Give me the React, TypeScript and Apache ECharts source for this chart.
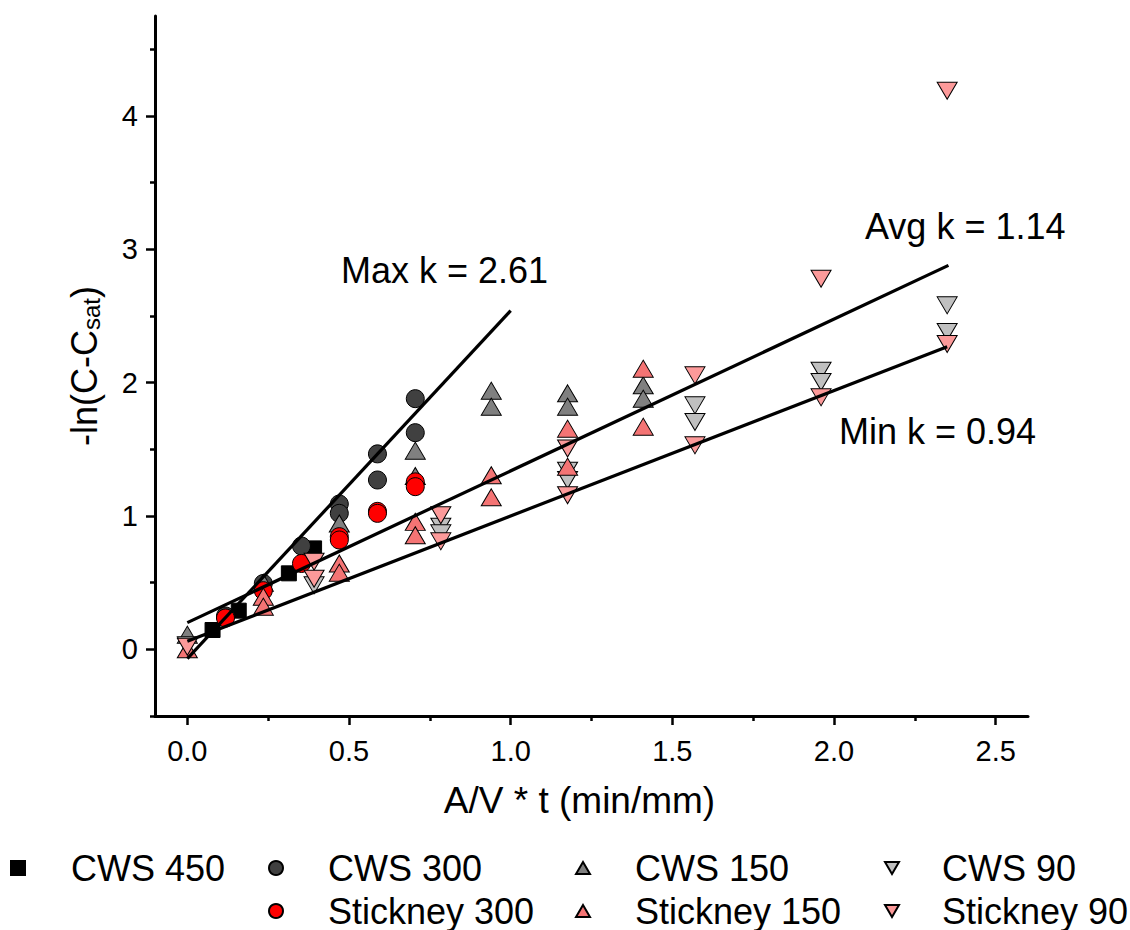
import React, { useEffect, useRef } from "react";
import * as echarts from "echarts";

// ---------- data ----------
const cws450: number[][] = [[0.078, 0.145], [0.159, 0.29], [0.314, 0.57], [0.392, 0.757]];
const cws300: number[][] = [
  [0.118, 0.25], [0.235, 0.494], [0.353, 0.775], [0.47, 1.09], [0.47, 1.02],
  [0.588, 1.466], [0.588, 1.27], [0.705, 1.88], [0.705, 1.625],
];
const cws150: number[][] = [
  [0, 0.11], [0.235, 0.5], [0.47, 0.944], [0.705, 1.49], [0.705, 1.3],
  [0.94, 1.94], [0.94, 1.82], [1.176, 1.92], [1.176, 1.82], [1.41, 1.98], [1.41, 1.88],
];
const cws90: number[][] = [
  [0, 0.03], [0.392, 0.48], [0.784, 0.92], [0.784, 0.87], [1.176, 1.34], [1.176, 1.27],
  [1.57, 1.83], [1.57, 1.705], [1.96, 2.09], [1.96, 2.005], [2.35, 2.58], [2.35, 2.38],
];
const stickney300: number[][] = [
  [0.118, 0.235], [0.235, 0.44], [0.353, 0.644], [0.47, 0.845], [0.47, 0.82],
  [0.588, 1.035], [0.588, 1.02], [0.705, 1.256], [0.705, 1.22],
];
const stickney150: number[][] = [
  [0, 0], [0.235, 0.395], [0.235, 0.32], [0.47, 0.644], [0.47, 0.575], [0.705, 0.956],
  [0.705, 0.856], [0.94, 1.306], [0.94, 1.14], [1.176, 1.655], [1.176, 1.37],
  [1.41, 2.105], [1.41, 1.67],
];
const stickney90: number[][] = [
  [0, 0.02], [0.392, 0.657], [0.392, 0.53], [0.784, 1.006], [0.784, 0.81],
  [1.176, 1.506], [1.176, 1.156], [1.57, 2.055], [1.57, 1.53], [1.96, 2.78],
  [1.96, 1.89], [2.35, 4.19], [2.35, 2.29],
];
const fitMax: number[][] = [[0, -0.07], [1.0, 2.54]];
const fitAvg: number[][] = [[0, 0.2], [2.354, 2.88]];
const fitMin: number[][] = [[0, 0.06], [2.35, 2.27]];

const xMajorTicks = [0, 0.5, 1, 1.5, 2, 2.5];
const xMinorTicks = [0.25, 0.75, 1.25, 1.75, 2.25];
const yMajorTicks = [0, 1, 2, 3, 4];
const yMinorTicks = [-0.5, 0.5, 1.5, 2.5, 3.5, 4.5];

const annotations = [
  { text: "Max k = 2.61", x: 341, y: 270 },
  { text: "Avg k = 1.14", x: 865, y: 226 },
  { text: "Min k = 0.94", x: 839, y: 431 },
];

// ---------- styles ----------
const FONT = "'Liberation Sans', Arial, sans-serif";
const UP = "path://M5,0L10,8.66L0,8.66Z";
const DOWN = "path://M0,0L10,0L5,8.66Z";

const scatter = (name: string, data: number[][], symbol: string, size: any, color: string) => ({
  type: "scatter",
  name,
  data,
  symbol,
  symbolSize: size,
  itemStyle: { color, borderColor: "#000", borderWidth: 1, opacity: 1 },
  xAxisIndex: 0,
  yAxisIndex: 0,
  z: 2,
});

const fitLine = (name: string, data: number[][]) => ({
  type: "line",
  name,
  data,
  symbol: "none",
  showSymbol: false,
  lineStyle: { color: "#000", width: 3.2 },
  xAxisIndex: 0,
  yAxisIndex: 0,
  z: 3,
  silent: true,
});

const legendItem = (name: string, left: number, top: number, gap: number) => ({
  data: [name],
  left,
  top,
  padding: 0,
  itemWidth: 14,
  itemHeight: 14,
  selectedMode: false,
  formatter: (n: string) => `{g|}${n}`,
  textStyle: {
    fontFamily: FONT,
    fontSize: 36,
    lineHeight: 36,
    color: "#000",
    rich: { g: { width: gap } },
  },
});

export default function App() {
  const ref = useRef<HTMLDivElement>(null);
  useEffect(() => {
    if (!ref.current) return;
    const chart = echarts.init(ref.current, null, { renderer: "svg" });
    const axisLineStyle = { color: "#000", width: 3 };
    const tickStyle = { color: "#000", width: 2.5 };
    chart.setOption({
      animation: false,
      backgroundColor: "#fff",
      grid: { left: 155, right: 102, top: 16, bottom: 214, containLabel: false },
      xAxis: [
        {
          type: "value",
          min: -0.1,
          max: 2.6,
          position: "bottom",
          axisLine: { show: true, onZero: false, lineStyle: axisLineStyle },
          axisTick: { show: true, customValues: xMajorTicks, length: 9, lineStyle: tickStyle },
          axisLabel: {
            customValues: xMajorTicks,
            formatter: (v: number) => Number(v).toFixed(1),
            fontSize: 29,
            fontFamily: FONT,
            color: "#000",
            margin: 20,
          },
          splitLine: { show: false },
          name: "A/V * t (min/mm)",
          nameLocation: "middle",
          nameGap: 66,
          nameTextStyle: { fontFamily: FONT, fontSize: 37, color: "#000", padding: [0, 24, 0, 0] },
        },
        {
          type: "value",
          min: -0.1,
          max: 2.6,
          position: "bottom",
          axisLine: { show: false, onZero: false },
          axisTick: { show: true, customValues: xMinorTicks, length: 5, lineStyle: tickStyle },
          axisLabel: { show: false },
          splitLine: { show: false },
        },
      ],
      yAxis: [
        {
          type: "value",
          min: -0.5,
          max: 4.75,
          position: "left",
          axisLine: { show: true, onZero: false, lineStyle: axisLineStyle },
          axisTick: { show: true, customValues: yMajorTicks, length: 9, lineStyle: tickStyle },
          axisLabel: {
            customValues: yMajorTicks,
            formatter: (v: number) => String(v),
            fontSize: 29,
            fontFamily: FONT,
            color: "#000",
            margin: 17,
          },
          splitLine: { show: false },
          name: "-ln(C-C{sub|sat})",
          nameLocation: "middle",
          nameGap: 52,
          nameTextStyle: {
            fontFamily: FONT,
            fontSize: 36,
            color: "#000",
            rich: {
              sub: { fontFamily: FONT, fontSize: 24, color: "#000", verticalAlign: "bottom", padding: [14, 0, 0, 0] },
            },
          },
        },
        {
          type: "value",
          min: -0.5,
          max: 4.75,
          position: "left",
          axisLine: { show: false, onZero: false },
          axisTick: { show: true, customValues: yMinorTicks, length: 5, lineStyle: tickStyle },
          axisLabel: { show: false },
          splitLine: { show: false },
        },
      ],
      legend: [
        legendItem("CWS 450", 10, 850, 41),
        legendItem("CWS 300", 268, 850, 40),
        legendItem("CWS 150", 575, 850, 40),
        legendItem("CWS 90", 884, 850, 38),
        legendItem("Stickney 300", 268, 893, 40),
        legendItem("Stickney 150", 575, 893, 40),
        legendItem("Stickney 90", 884, 893, 38),
      ],
      graphic: annotations.map((a) => ({
        type: "text",
        x: a.x,
        y: a.y,
        style: {
          text: a.text,
          fontFamily: FONT,
          fontSize: 36,
          fill: "#000",
          textAlign: "left",
          textVerticalAlign: "middle",
        },
        z: 10,
      })),
      series: [
        scatter("CWS 450", cws450, "rect", 15, "#000000"),
        scatter("CWS 300", cws300, "circle", 18, "#404040"),
        scatter("CWS 150", cws150, UP, [20, 17], "#808080"),
        scatter("CWS 90", cws90, DOWN, [20, 17], "#c0c0c0"),
        scatter("Stickney 300", stickney300, "circle", 18, "#ff0000"),
        scatter("Stickney 150", stickney150, UP, [20, 17], "#f47474"),
        scatter("Stickney 90", stickney90, DOWN, [20, 17], "#fc9a9a"),
        fitLine("Max fit", fitMax),
        fitLine("Avg fit", fitAvg),
        fitLine("Min fit", fitMin),
      ],
    });
    return () => chart.dispose();
  }, []);
  return (
    <div
      ref={ref}
      style={{ position: "fixed", left: 0, top: 0, width: 1130, height: 930, background: "#fff" }}
    />
  );
}
